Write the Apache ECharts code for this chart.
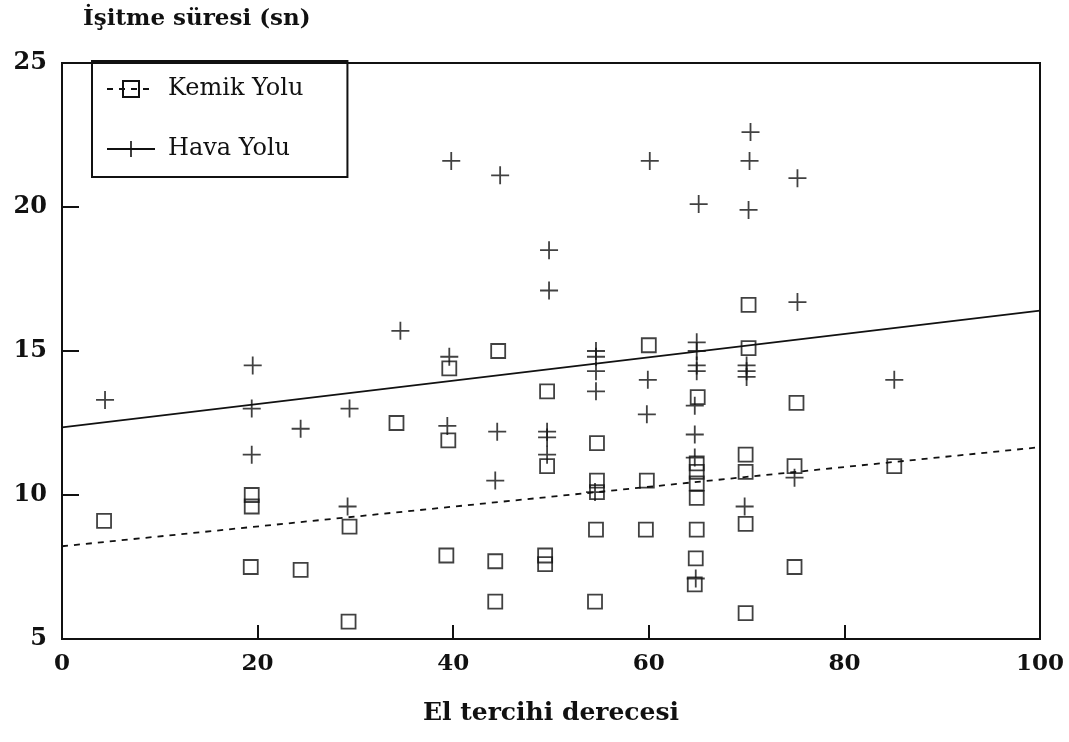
<!DOCTYPE html>
<html>
<head>
<meta charset="utf-8">
<script src="https://cdn.jsdelivr.net/npm/echarts@6.0.0/dist/echarts.min.js"></script>
<style>
  html, body { margin: 0; padding: 0; background: #fff; }
  #chart { width: 1069px; height: 742px; }
</style>
</head>
<body>
<div id="chart"></div>
<script>
// Kemik Yolu (bone conduction) - squares
const kemikX = [4.3, 19.4, 19.4, 29.4, 19.3, 24.4, 29.3, 34.2, 39.6, 39.5, 39.3, 44.6, 44.3, 44.3,
  49.6, 49.4, 49.4, 49.6, 54.7, 54.7, 54.7, 54.6, 54.5, 60.0, 59.8, 59.7, 65.0, 64.9, 64.9, 64.9,
  64.9, 64.9, 64.8, 64.7, 70.2, 70.2, 69.9, 69.9, 69.9, 69.9, 75.1, 74.9, 74.9, 85.1];
const kemikY = [9.1, 10.0, 9.6, 8.9, 7.5, 7.4, 5.6, 12.5, 14.4, 11.9, 7.9, 15.0, 7.7, 6.3,
  11.0, 7.9, 7.6, 13.6, 11.8, 10.5, 10.1, 8.8, 6.3, 15.2, 10.5, 8.8, 13.4, 11.1, 10.8, 10.4,
  9.9, 8.8, 7.8, 6.9, 16.6, 15.1, 11.4, 10.8, 9.0, 5.9, 13.2, 11.0, 7.5, 11.0];

// Hava Yolu (air conduction) - plus marks
const havaX = [4.4, 19.5, 19.4, 19.4, 24.4, 29.4, 29.2, 34.6, 39.6, 39.4, 39.8, 44.8, 44.5, 44.3,
  49.8, 49.8, 49.6, 49.6, 49.6, 54.6, 54.6, 54.6, 54.6, 54.5, 60.1, 59.9, 59.8, 65.1, 64.9, 64.9,
  64.9, 64.9, 64.7, 64.7, 64.7, 64.8, 70.4, 70.3, 70.2, 70.0, 70.0, 70.0, 69.8, 75.2, 75.2, 74.9, 85.1];
const havaY = [13.3, 14.5, 13.0, 11.4, 12.3, 13.0, 9.6, 15.7, 14.8, 12.4, 21.6, 21.1, 12.2, 10.5,
  18.5, 17.1, 12.2, 12.0, 11.4, 15.0, 14.8, 14.3, 13.6, 10.1, 21.6, 14.0, 12.8, 20.1, 15.3, 15.0,
  14.5, 14.3, 13.1, 12.1, 11.3, 7.1, 22.6, 21.6, 19.9, 14.5, 14.3, 14.1, 9.6, 21.0, 16.7, 10.6, 14.0];

// regression lines (end points)
const kemikFitX = [0, 100];
const kemikFitY = [8.22, 11.66];
const havaFitX = [0, 100];
const havaFitY = [12.35, 16.4];

const xTicks = [0, 20, 40, 60, 80, 100];
const yTicks = [5, 10, 15, 20, 25];

const serif = "DejaVu Serif";
const ink = "#111";
const plusPath = "path://M0,9H20V11H0Z M9,0H11V20H9Z";
const zip = (xs, ys) => xs.map((x, i) => [x, ys[i]]);

const chart = echarts.init(document.getElementById("chart"), null, { renderer: "canvas" });

chart.setOption({
  animation: false,
  backgroundColor: "#fff",
  title: {
    text: "İşitme süresi (sn)",
    left: 78,
    top: 3,
    textStyle: { fontFamily: serif, fontWeight: "bold", fontSize: 23, color: ink }
  },
  legend: {
    data: ["Kemik Yolu", "Hava Yolu"],
    orient: "vertical",
    left: 92,
    top: 61,
    itemWidth: 48,
    itemHeight: 20,
    itemGap: 36,
    padding: [16, 44, 16, 14],
    borderColor: ink,
    borderWidth: 2,
    selectedMode: false,
    textStyle: { fontFamily: serif, fontSize: 24, color: ink, padding: [0, 0, 0, 8] }
  },
  grid: {
    left: 62, right: 29, top: 63, bottom: 103,
    show: true, borderColor: ink, borderWidth: 2
  },
  xAxis: {
    type: "value",
    min: xTicks[0], max: xTicks[xTicks.length - 1], interval: 20,
    name: "El tercihi derecesi",
    nameLocation: "middle",
    nameGap: 62,
    nameTextStyle: { fontFamily: serif, fontWeight: "bold", fontSize: 25, color: ink },
    axisLine: { lineStyle: { color: ink, width: 2 } },
    axisTick: { inside: true, length: 14, lineStyle: { color: ink, width: 2 } },
    axisLabel: { margin: 14, fontFamily: serif, fontWeight: "bold", fontSize: 23, color: ink },
    splitLine: { show: false }
  },
  yAxis: {
    type: "value",
    min: yTicks[0], max: yTicks[yTicks.length - 1], interval: 5,
    axisLine: { show: true, lineStyle: { color: ink, width: 2 } },
    axisTick: { show: true, inside: true, length: 17, lineStyle: { color: ink, width: 2 } },
    axisLabel: { margin: 15, fontFamily: serif, fontWeight: "bold", fontSize: 24, color: ink },
    splitLine: { show: false }
  },
  series: [
    {
      name: "Kemik Yolu",
      type: "line",
      data: zip(kemikFitX, kemikFitY),
      symbol: "rect",
      showSymbol: false,
      itemStyle: { color: "rgba(0,0,0,0)", borderColor: ink, borderWidth: 1.8 },
      lineStyle: { color: ink, width: 1.8, type: [6, 6] },
      z: 1
    },
    {
      name: "Hava Yolu",
      type: "line",
      data: zip(havaFitX, havaFitY),
      symbol: plusPath,
      showSymbol: false,
      itemStyle: { color: ink },
      lineStyle: { color: ink, width: 1.8, type: "solid" },
      z: 1
    },
    {
      name: "Kemik Yolu",
      type: "scatter",
      data: zip(kemikX, kemikY),
      symbol: "rect",
      symbolSize: 14,
      itemStyle: { color: "rgba(0,0,0,0)", borderColor: ink, borderWidth: 1.8 },
      z: 2
    },
    {
      name: "Hava Yolu",
      type: "scatter",
      data: zip(havaX, havaY),
      symbol: plusPath,
      symbolSize: 18,
      itemStyle: { color: ink },
      z: 2
    }
  ]
});
</script>
</body>
</html>
